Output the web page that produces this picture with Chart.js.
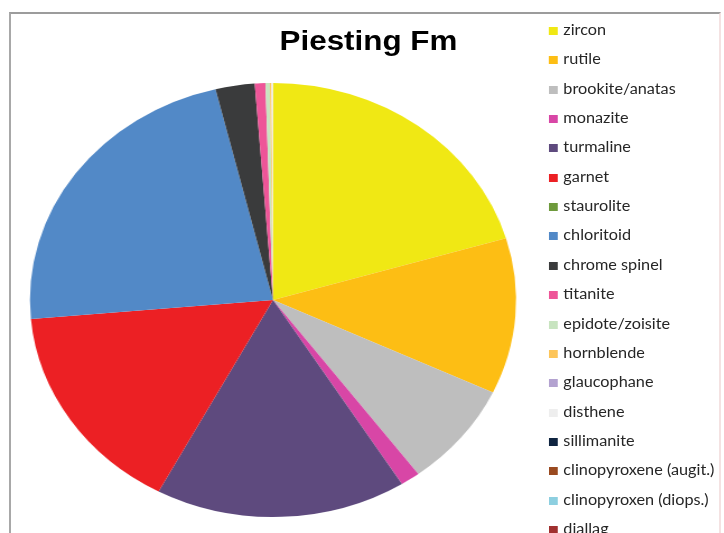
<!DOCTYPE html>
<html>
<head>
<meta charset="utf-8">
<title>Piesting Fm</title>
<script src="https://cdn.jsdelivr.net/npm/chart.js@4.4.1/dist/chart.umd.min.js"></script>
<style>
    html, body {
        margin: 0;
        padding: 0;
        width: 724px;
        height: 533px;
        overflow: hidden;
        background: #ffffff;
    }
    #frame {
        position: absolute;
        left: 9px;
        top: 12px;
        width: 708px;
        height: 600px;
        border-top: 2px solid #9c9c9c;
        border-left: 2px solid #a8a8a8;
        border-right: 2px solid #f4e2e2;
    }
    /* the original picture is stretched sideways, so the whole chart is too */
    #stretch {
        position: absolute;
        left: 0;
        top: 0;
        width: 658px;
        height: 533px;
        transform: scaleX(1.12);
        transform-origin: 0 0;
    }
    #title {
        position: absolute;
        left: 0;
        top: 23.6px;
        width: 658px;
        text-align: center;
        font-family: "Liberation Sans", Arial, sans-serif;
        font-weight: bold;
        font-size: 28px;
        line-height: 34px;
        color: #000000;
    }
    #legend {
        position: absolute;
        left: 490px;
        top: 0;
        font-family: Lato, "Open Sans", sans-serif;
        font-size: 14.5px;
        color: #262626;
    }
    .item {
        position: absolute;
        left: 0;
        white-space: nowrap;
        height: 18px;
        line-height: 18px;
        transform: translateY(-9px);
    }
    .box {
        display: inline-block;
        width: 8px;
        height: 8px;
        margin-right: 5px;
        vertical-align: 0px;
    }
</style>
</head>
<body>
<div id="frame"></div>
<div id="stretch">
    <canvas id="chartPiesting" width="658" height="533"></canvas>
    <div id="title"></div>
    <div id="legend"></div>
</div>

<script>
// dati del grafico
const minerals = [
    "zircon", "rutile", "brookite/anatas", "monazite", "turmaline", "garnet",
    "staurolite", "chloritoid", "chrome spinel", "titanite", "epidote/zoisite",
    "hornblende", "glaucophane", "disthene", "sillimanite",
    "clinopyroxene (augit.)", "clinopyroxen (diops.)", "diallag"
];
const percentages = [
    20.4, 11.6, 7.8, 1.3, 16.7, 15.8,
    0, 22.6, 2.6, 0.7, 0.3,
    0.1, 0, 0.1, 0,
    0, 0, 0
];
const mineralColors = [
    "#f0e814", "#fdbe14", "#bebebe", "#d846a6", "#5e4a7e", "#ec2024",
    "#6e9a3c", "#5289c7", "#3a3b3c", "#ee5598", "#c8e4c0",
    "#fdc55a", "#b3a2d0", "#eeeeee", "#0f2440",
    "#9a4a20", "#8dcfe0", "#a0302f"
];
const chartTitle = "Piesting Fm";

document.addEventListener("DOMContentLoaded", function () {
    const ctx = document.getElementById("chartPiesting").getContext("2d");

    // titolo sopra il grafico (non centrato sulla torta)
    document.getElementById("title").textContent = chartTitle;

    new Chart(ctx, {
        type: "pie",
        data: {
            labels: minerals,
            datasets: [{
                data: percentages,
                backgroundColor: mineralColors,
                borderWidth: 0
            }]
        },
        options: {
            responsive: false,
            animation: false,
            devicePixelRatio: 1,
            layout: {
                padding: { left: 26.75, right: 197.25, top: 83, bottom: 16 }
            },
            plugins: {
                legend: { display: false },
                tooltip: { enabled: false },
                title: { display: false }
            }
        }
    });

    // legenda a destra, una riga per minerale
    const legend = document.getElementById("legend");
    minerals.forEach((name, i) => {
        const item = document.createElement("div");
        item.className = "item";
        item.style.top = (30 + i * 29.35) + "px";
        item.innerHTML = `<span class="box" style="background:${mineralColors[i]}"></span>${name}`;
        legend.appendChild(item);
    });
});
</script>
</body>
</html>
